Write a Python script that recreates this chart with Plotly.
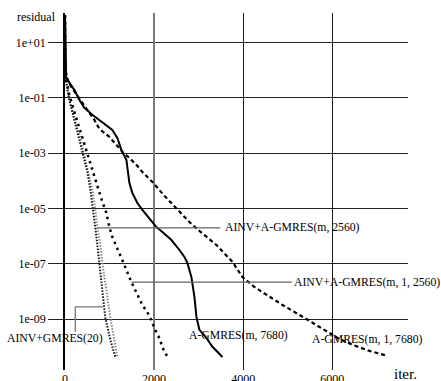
import plotly.graph_objects as go

# ---------------- data (iterations, log10 residual) ----------------
it_agmres = [0, 5, 22, 97, 209, 321, 434, 613, 838, 1063, 1175, 1265, 1378, 1445, 1512, 1625,
             1737, 1894, 2052, 2187, 2389, 2569, 2681, 2748, 2838, 2906, 2951, 3018, 3175, 3310, 3535]
lr_agmres = [2.0, 0.38, -0.24, -0.45, -0.71, -1.07, -1.36, -1.61, -1.87, -2.16, -2.45, -2.88, -3.24, -4.07,
             -4.44, -4.80, -5.05, -5.34, -5.67, -5.85, -6.14, -6.50, -6.75, -6.97, -7.48, -8.20, -8.92,
             -9.39, -9.68, -10.00, -10.37]

it_agmres1 = [0, 5, 29, 97, 187, 321, 501, 658, 771, 996, 1153, 1288, 1445, 1602, 1737, 1962, 2231,
              2523, 2793, 3018, 3400, 3760, 3984, 4254, 4524, 4883, 5265, 5557, 5872, 6164, 6456, 6838, 7243]
lr_agmres1 = [2.0, 0.38, -0.20, -0.49, -0.71, -1.03, -1.43, -1.79, -2.12, -2.41, -2.70, -2.95, -3.17,
              -3.42, -3.68, -4.04, -4.54, -5.05, -5.49, -5.81, -6.32, -6.93, -7.48, -7.84, -8.12, -8.49,
              -8.85, -9.14, -9.43, -9.72, -9.93, -10.15, -10.33]

it_ainv_agmres1 = [0, 5, 29, 97, 209, 321, 411, 501, 591, 658, 771, 838, 928, 996, 1063, 1153, 1220,
                   1333, 1490, 1625, 1737, 1849, 1939, 2007, 2119, 2231, 2299]
lr_ainv_agmres1 = [2.0, 0.56, -0.35, -0.89, -1.50, -2.08, -2.59, -3.06, -3.49, -3.86, -4.44, -4.76,
                   -5.16, -5.67, -6.03, -6.39, -6.61, -7.04, -7.66, -8.13, -8.49, -8.75, -9.04, -9.33,
                   -9.69, -10.20, -10.34]

it_ainv_gmres = [0, 5, 18, 97, 209, 321, 411, 501, 569, 636, 681, 726, 771, 838, 906, 1018, 1130]
lr_ainv_gmres = [2.0, 0.56, -0.35, -1.07, -1.79, -2.44, -3.06, -3.67, -4.32, -5.05, -5.70, -6.32,
                 -6.97, -7.95, -8.96, -9.75, -10.37]

it_ainv_agmres = [0, 5, 18, 97, 209, 344, 434, 524, 613, 681, 726, 793, 838, 928, 1018, 1108, 1175]
lr_ainv_agmres = [2.0, 0.56, -0.35, -1.07, -1.76, -2.44, -3.06, -3.67, -4.32, -5.05, -5.70, -6.32,
                  -6.97, -7.95, -8.96, -9.75, -10.37]

y_tick_vals = [1e1, 1e-1, 1e-3, 1e-5, 1e-7, 1e-9]
y_tick_text = ["1e+01", "1e-01", "1e-03", "1e-05", "1e-07", "1e-09"]
x_tick_black = [0, 4000, 6000]
x_tick_grey = [2000]

FONT = "Liberation Serif"


def res(lst):
    return [10 ** v for v in lst]


fig = go.Figure()

# pointer for AINV+GMRES(20) (L-shaped)
k = lr_ainv_gmres.index(-8.96)
py_ptr = 10 ** (lr_ainv_gmres[k] + 0.4)
fig.add_trace(go.Scatter(x=[it_ainv_gmres[k] - 60, 231, 231], y=[py_ptr, py_ptr, 10 ** -9.47],
                         mode="lines", line=dict(color="#777777", width=1.3),
                         hoverinfo="skip", xaxis="x2", yaxis="y"))

fig.add_trace(go.Scatter(x=it_ainv_agmres, y=res(lr_ainv_agmres), mode="lines",
                         line=dict(color="#8a8a8a", width=2, dash="1.5px,1.5px")))
fig.add_trace(go.Scatter(x=it_ainv_gmres, y=res(lr_ainv_gmres), mode="lines",
                         line=dict(color="#111111", width=2, dash="1.5px,1.5px")))
fig.add_trace(go.Scatter(x=it_ainv_agmres1, y=res(lr_ainv_agmres1), mode="lines",
                         line=dict(color="#000000", width=2.5, dash="2.5px,4px")))
fig.add_trace(go.Scatter(x=it_agmres1, y=res(lr_agmres1), mode="lines",
                         line=dict(color="#000000", width=2.2, dash="4px,3px")))
fig.add_trace(go.Scatter(x=it_agmres, y=res(lr_agmres), mode="lines",
                         line=dict(color="#000000", width=2)))

ann_font = dict(family=FONT, size=11.7, color="black")
C = dict(xanchor="center", yanchor="middle")
annotations = []
# AINV+A-GMRES(m, 2560): pointer to grey dotted
i1 = lr_ainv_agmres.index(-5.70)
annotations.append(dict(x=it_ainv_agmres[i1], y=lr_ainv_agmres[i1], xref="x", yref="y",
                        text="AINV+A-GMRES(m, 2560)", showarrow=True, arrowhead=0, arrowwidth=1.2,
                        arrowcolor="#666666", ax=195, ay=0, borderpad=4, font=ann_font))
# AINV+A-GMRES(m, 1, 2560)
i2 = lr_ainv_agmres1.index(-7.66)
annotations.append(dict(x=it_ainv_agmres1[i2], y=lr_ainv_agmres1[i2], xref="x", yref="y",
                        text="AINV+A-GMRES(m, 1, 2560)", showarrow=True, arrowhead=0, arrowwidth=1.2,
                        arrowcolor="#666666", ax=236, ay=0, borderpad=2, font=ann_font))
annotations.append(dict(x=3894, y=-9.58, xref="x", yref="y", text="A-GMRES(m, 7680)",
                        showarrow=False, font=ann_font, **C))
annotations.append(dict(x=6771, y=-9.72, xref="x", yref="y", text="A-GMRES(m, 1, 7680)",
                        showarrow=False, font=ann_font, **C))
annotations.append(dict(x=-0.0277, y=0.0896, xref="paper", yref="paper", text="AINV+GMRES(20)",
                        showarrow=False, font=ann_font, **C))
annotations.append(dict(x=-0.0845, y=0.9888, xref="paper", yref="paper", text="residual",
                        showarrow=False, font=dict(family=FONT, size=12, color="black"), **C))
annotations.append(dict(x=0.994, y=-0.0112, xref="paper", yref="paper", text="iter.",
                        showarrow=False, font=dict(family=FONT, size=15, color="black"), **C))

fig.update_layout(
    width=441, height=381,
    margin=dict(l=65, r=33, t=13, b=11, autoexpand=False),
    paper_bgcolor="white", plot_bgcolor="white",
    showlegend=False,
    font=dict(family=FONT, size=12, color="black"),
    annotations=annotations,
    xaxis=dict(range=[0, 7700], tickvals=x_tick_black, ticktext=[str(v) for v in x_tick_black],
               showgrid=True, gridcolor="#1a1a1a", gridwidth=1.2, zeroline=False, showline=False,
               ticks="", automargin=False, tickfont=dict(family=FONT, size=12)),
    xaxis2=dict(range=[0, 7700], overlaying="x", matches="x", anchor="y", side="bottom",
                tickvals=x_tick_grey, ticktext=[str(v) for v in x_tick_grey],
                showgrid=True, gridcolor="#7a7a7a", gridwidth=2.2, zeroline=False, showline=False,
                ticks="", automargin=False, tickfont=dict(family=FONT, size=12)),
    yaxis=dict(type="log", range=[-10.84, 2.07], tickvals=y_tick_vals, ticktext=y_tick_text,
               showgrid=True, gridcolor="#222222", gridwidth=1.1, zeroline=False,
               showline=True, linecolor="black", linewidth=1.5, automargin=False,
               ticks="outside", ticklen=15, tickcolor="#222222", tickwidth=1.1,
               tickfont=dict(family=FONT, size=12)),
)

fig.write_html("out.html", config={"displayModeBar": False},
               post_script="document.body.style.margin='0';document.body.style.overflow='hidden';")
